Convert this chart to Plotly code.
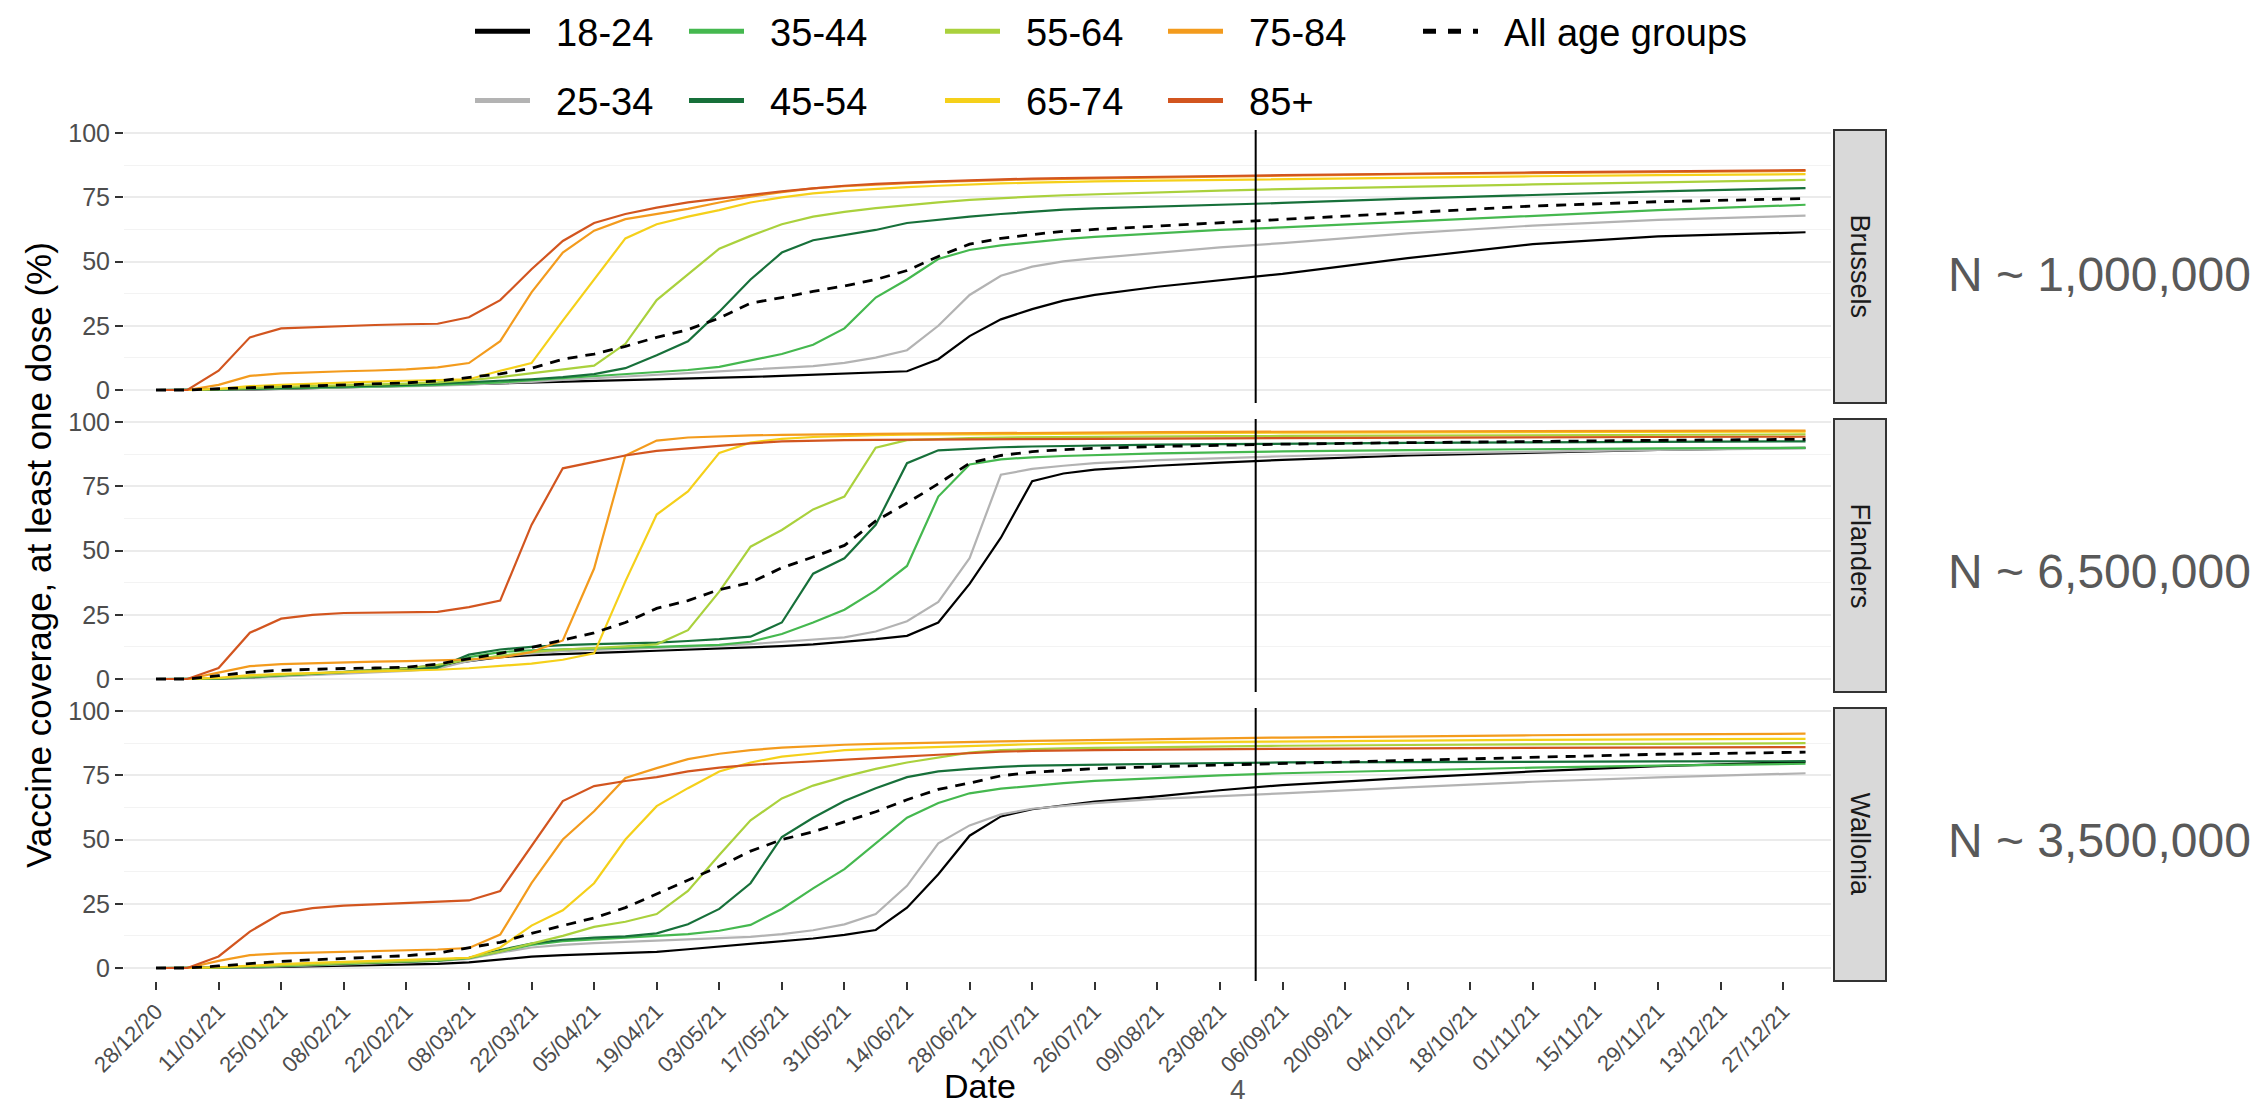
import pandas as pd
import plotly.graph_objects as go
from plotly.subplots import make_subplots

# ---------------- data ----------------
DATES = ["2020-12-28", "2021-01-04", "2021-01-11", "2021-01-18", "2021-01-25", "2021-02-01",
         "2021-02-08", "2021-02-15", "2021-02-22", "2021-03-01", "2021-03-08", "2021-03-15",
         "2021-03-22", "2021-03-29", "2021-04-05", "2021-04-12", "2021-04-19", "2021-04-26",
         "2021-05-03", "2021-05-10", "2021-05-17", "2021-05-24", "2021-05-31", "2021-06-07",
         "2021-06-14", "2021-06-21", "2021-06-28", "2021-07-05", "2021-07-12", "2021-07-19",
         "2021-07-26", "2021-08-09", "2021-08-23", "2021-09-06", "2021-10-04", "2021-11-01",
         "2021-11-29", "2022-01-01"]

GROUPS = ["18-24", "25-34", "35-44", "45-54", "55-64", "65-74", "75-84", "85+"]
REGIONS = ["Brussels", "Flanders", "Wallonia"]
POPULATION_LABELS = ["N ~ 1,000,000", "N ~ 6,500,000", "N ~ 3,500,000"]
TICK_DATES = pd.date_range("2020-12-28", "2021-12-27", freq="14D")
REFERENCE_DATE = "2021-08-31"

# Brussels
BRU_18_24 = [0, 0, 0.1, 0.2, 0.4, 0.7, 1, 1.3, 1.6, 2, 2.3, 2.6, 3, 3.3, 3.6, 3.9, 4.2, 4.4, 4.7, 5.1, 5.5, 5.9, 6.3, 6.8, 7.3, 12, 21, 27.5, 31.5, 34.8, 37, 40.2, 42.8, 45.2, 51.3, 56.8, 59.8, 61.4]
BRU_25_34 = [0, 0, 0.1, 0.3, 0.5, 0.7, 0.9, 1.1, 1.4, 1.7, 2.1, 2.6, 3.2, 3.9, 4.6, 5.3, 6, 6.7, 7.4, 8, 8.6, 9.3, 10.6, 12.6, 15.5, 25, 37, 44.5, 48, 50.1, 51.3, 53.5, 55.5, 57.2, 61, 64, 66.2, 67.9]
BRU_35_44 = [0, 0, 0.2, 0.4, 0.6, 0.8, 1, 1.3, 1.6, 2, 2.5, 3, 3.8, 4.6, 5.5, 6.3, 7, 7.8, 9, 11.5, 14, 17.6, 24, 36, 43, 51, 54.5, 56.3, 57.5, 58.7, 59.6, 61, 62.3, 63.3, 65.5, 67.8, 70, 72.1]
BRU_45_54 = [0, 0, 0.2, 0.5, 0.8, 1, 1.3, 1.6, 2, 2.5, 3, 3.5, 4.2, 5, 6.2, 8.5, 13.5, 19, 30.5, 43, 53.5, 58.3, 60.3, 62.3, 65, 66.3, 67.5, 68.5, 69.3, 70.2, 70.7, 71.4, 72, 72.8, 74.5, 76, 77.3, 78.6]
BRU_55_64 = [0, 0, 0.3, 0.8, 1.2, 1.5, 1.8, 2.1, 2.5, 3, 3.8, 5, 6.5, 8, 9.5, 18, 35, 45, 55, 60, 64.5, 67.5, 69.3, 70.8, 72, 73, 74, 74.7, 75.3, 75.8, 76.2, 76.9, 77.6, 78.2, 79.2, 80, 80.8, 81.8]
BRU_65_74 = [0, 0, 0.5, 1.5, 2, 2.5, 3, 3.3, 3.6, 3.8, 4.2, 7.5, 10.5, 27, 43, 59, 64.5, 67.5, 70, 73, 75, 76.5, 77.5, 78.3, 79, 79.5, 80, 80.4, 80.7, 81, 81.2, 81.5, 81.8, 82.1, 82.7, 83.2, 83.6, 84]
BRU_75_84 = [0, 0, 2, 5.5, 6.5, 7, 7.3, 7.6, 8, 8.8, 10.5, 19, 38, 53.5, 62, 66.5, 68.5, 70.5, 73, 75.3, 77, 78.5, 79.3, 80, 80.5, 81, 81.4, 81.7, 82, 82.2, 82.4, 82.8, 83.1, 83.4, 84, 84.5, 85, 85.3]
BRU_85P = [0, 0, 7.5, 20.5, 24, 24.5, 25, 25.3, 25.6, 25.8, 28.3, 35, 47, 58, 65, 68.5, 71, 73, 74.5, 76, 77.3, 78.5, 79.5, 80.2, 80.8, 81.2, 81.6, 82, 82.3, 82.5, 82.7, 83, 83.3, 83.6, 84.2, 84.7, 85.1, 85.6]
BRU_ALL = [0, 0, 0.5, 1, 1.3, 1.6, 2, 2.4, 2.8, 3.5, 4.8, 6.3, 8.5, 12, 14, 17, 20.5, 23.5, 28, 33.8, 36, 38.4, 40.5, 43, 46.5, 52, 56.8, 59, 60.5, 61.8, 62.5, 63.8, 65.2, 66.5, 69.2, 71.6, 73.3, 74.5]

# Flanders
FLA_18_24 = [0, 0, 0.1, 0.5, 1.2, 2, 2.8, 3.5, 4.3, 5.2, 7, 8.5, 9.3, 9.8, 10.2, 10.6, 11, 11.4, 11.8, 12.3, 12.8, 13.5, 14.5, 15.5, 16.8, 22, 37, 55, 77, 80, 81.5, 83, 84.2, 85.3, 87, 88.2, 89.2, 90]
FLA_25_34 = [0, 0, 0.1, 0.5, 1, 1.5, 2, 2.6, 3.2, 4, 7, 9, 10, 10.8, 11.3, 11.7, 12.1, 12.5, 13, 13.6, 14.4, 15.3, 16.2, 18.5, 22.5, 30, 47, 79.5, 81.8, 83, 84, 85.2, 86, 86.7, 87.7, 88.5, 89.2, 89.8]
FLA_35_44 = [0, 0, 0.2, 0.7, 1.3, 1.9, 2.5, 3.1, 3.8, 4.5, 8.5, 10.5, 11.2, 11.6, 11.9, 12.2, 12.5, 12.8, 13.3, 14.5, 17.5, 22, 27, 34.5, 44, 71, 83.5, 85.5, 86.3, 86.8, 87.2, 87.8, 88.2, 88.6, 89.1, 89.5, 89.8, 90]
FLA_45_54 = [0, 0, 0.2, 0.8, 1.5, 2.2, 2.8, 3.4, 4, 4.5, 9.5, 11.5, 12.5, 13.2, 13.6, 13.9, 14.2, 14.8, 15.5, 16.5, 22, 41, 47, 60, 84, 89, 89.7, 90.2, 90.5, 90.7, 90.9, 91.2, 91.4, 91.6, 91.9, 92.1, 92.3, 92.5]
FLA_55_64 = [0, 0, 0.3, 1, 1.6, 2.2, 2.8, 3.4, 4.2, 5.5, 7.5, 9, 10.5, 11.5, 12, 12.7, 13.5, 19, 34, 51.5, 58, 66, 71, 90, 93, 93.5, 93.8, 94, 94.1, 94.2, 94.3, 94.4, 94.5, 94.6, 94.8, 95, 95.1, 95.2]
FLA_65_74 = [0, 0, 0.5, 1.5, 2, 2.3, 2.6, 2.9, 3.2, 3.6, 4.2, 5, 6, 7.5, 10, 38, 64, 73, 88, 92, 93.5, 94.2, 94.6, 94.9, 95.1, 95.2, 95.3, 95.4, 95.5, 95.6, 95.6, 95.7, 95.8, 95.9, 96, 96.1, 96.2, 96.3]
FLA_75_84 = [0, 0, 2.5, 5, 5.8, 6.2, 6.5, 6.8, 7, 7.2, 7.6, 8.3, 10.5, 15, 43, 87, 92.8, 94, 94.5, 94.8, 95, 95.2, 95.3, 95.4, 95.5, 95.6, 95.7, 95.8, 95.9, 96, 96, 96.1, 96.2, 96.3, 96.4, 96.5, 96.6, 96.7]
FLA_85P = [0, 0, 4.3, 18, 23.5, 25, 25.7, 25.9, 26, 26.1, 28, 30.5, 60, 82, 84.5, 87, 88.8, 89.8, 90.8, 91.7, 92.5, 92.8, 93, 93.1, 93.2, 93.3, 93.3, 93.4, 93.4, 93.5, 93.5, 93.6, 93.7, 93.8, 94, 94.1, 94.2, 94.3]
FLA_ALL = [0, 0, 1.3, 2.7, 3.4, 3.8, 4.1, 4.3, 4.6, 5.8, 7.8, 10, 12.3, 15, 18, 22, 27.5, 30.5, 34.8, 37.5, 43.3, 47.5, 52, 61.5, 68.5, 76, 84, 87, 88.5, 89.3, 89.8, 90.5, 91, 91.4, 92, 92.5, 92.9, 93.3]

# Wallonia
WAL_18_24 = [0, 0, 0.1, 0.2, 0.4, 0.6, 0.8, 1, 1.3, 1.6, 2.2, 3.3, 4.4, 5, 5.5, 5.8, 6.3, 7.3, 8.3, 9.3, 10.3, 11.5, 12.9, 14.8, 23.5, 36.5, 51.5, 59, 61.8, 63.3, 64.8, 66.8, 69.2, 71.2, 74, 76.5, 78.6, 80.2]
WAL_25_34 = [0, 0, 0.1, 0.3, 0.6, 1, 1.4, 1.8, 2.2, 2.7, 3.5, 6, 8, 9, 9.7, 10.2, 10.7, 11.2, 11.6, 12.1, 13.2, 14.7, 17, 21, 32, 48.5, 55.5, 59.8, 62, 63.2, 64.2, 65.8, 67, 68, 70.3, 72.5, 74.2, 75.8]
WAL_35_44 = [0, 0, 0.1, 0.4, 0.8, 1.2, 1.6, 2, 2.4, 2.9, 3.8, 6.5, 9, 10.5, 11.2, 11.8, 12.4, 13.2, 14.5, 16.8, 23, 31, 38.5, 48.5, 58.5, 64.2, 68, 69.8, 71, 72, 72.8, 74, 75, 75.8, 77, 78, 78.8, 79.5]
WAL_45_54 = [0, 0, 0.2, 0.5, 0.9, 1.3, 1.7, 2.1, 2.5, 3, 4, 7, 9.5, 11, 11.8, 12.3, 13.5, 17, 23, 33, 51, 58.5, 65, 70, 74.3, 76.5, 77.5, 78.3, 78.8, 79, 79.2, 79.5, 79.8, 80, 80.2, 80.3, 80.4, 80.5]
WAL_55_64 = [0, 0, 0.2, 0.6, 1, 1.4, 1.8, 2.2, 2.6, 3.1, 4, 6.5, 9.5, 12.5, 16, 18, 21, 30, 44, 57.5, 66, 71, 74.5, 77.5, 80, 82, 83.8, 84.8, 85.2, 85.5, 85.7, 86, 86.3, 86.5, 86.8, 87.1, 87.3, 87.5]
WAL_65_74 = [0, 0, 0.3, 1, 1.5, 2, 2.4, 2.7, 3, 3.4, 4, 8, 16.5, 22.5, 33, 50, 63, 70, 76.5, 80, 82.3, 83.5, 84.8, 85.3, 85.7, 86.1, 86.5, 86.9, 87.1, 87.3, 87.5, 87.8, 88, 88.2, 88.5, 88.8, 89, 89.2]
WAL_75_84 = [0, 0, 2.8, 5, 5.7, 6, 6.3, 6.6, 6.9, 7.2, 7.8, 13, 33, 50, 61, 74, 77.8, 81.3, 83.4, 84.8, 85.8, 86.4, 86.9, 87.2, 87.5, 87.8, 88, 88.2, 88.4, 88.6, 88.8, 89.1, 89.4, 89.7, 90.2, 90.6, 90.9, 91.2]
WAL_85P = [0, 0, 4.5, 14.2, 21.3, 23.3, 24.3, 24.8, 25.2, 25.6, 26.3, 30, 47.5, 65, 70.8, 72.8, 74.3, 76.5, 78, 79.1, 79.8, 80.5, 81.2, 81.8, 82.4, 83, 83.6, 84.2, 84.5, 84.7, 84.8, 85, 85.2, 85.3, 85.5, 85.7, 85.8, 86]
WAL_ALL = [0, 0, 0.8, 1.8, 2.6, 3.2, 3.7, 4.2, 4.8, 5.8, 7.8, 10, 13.5, 16.5, 19.5, 23.5, 28.8, 34, 39.5, 45.5, 50, 53, 56.8, 60.8, 65.5, 69.5, 72, 74.8, 76.2, 77, 77.6, 78.4, 79, 79.6, 81, 82.2, 83.2, 84]

DATA = {
    "Brussels": dict(zip(GROUPS, [BRU_18_24, BRU_25_34, BRU_35_44, BRU_45_54, BRU_55_64, BRU_65_74, BRU_75_84, BRU_85P])),
    "Flanders": dict(zip(GROUPS, [FLA_18_24, FLA_25_34, FLA_35_44, FLA_45_54, FLA_55_64, FLA_65_74, FLA_75_84, FLA_85P])),
    "Wallonia": dict(zip(GROUPS, [WAL_18_24, WAL_25_34, WAL_35_44, WAL_45_54, WAL_55_64, WAL_65_74, WAL_75_84, WAL_85P])),
}
ALL_AGES = {"Brussels": BRU_ALL, "Flanders": FLA_ALL, "Wallonia": WAL_ALL}

# ---------------- style ----------------
COLORS = {"18-24": "#000000", "25-34": "#b3b3b3", "35-44": "#45b84f", "45-54": "#17703a",
          "55-64": "#aad13d", "65-74": "#f5d01a", "75-84": "#f39b1d", "85+": "#d2551f"}
FONT = "Liberation Sans, Arial, Helvetica, sans-serif"
LEGEND_COLUMNS = [["18-24", "25-34"], ["35-44", "45-54"], ["55-64", "65-74"], ["75-84", "85+"], ["All age groups"]]
LEGEND_X_PX = [462, 676, 932, 1155, 1410]
NBSP = "\u00a0\u00a0"

W, H = 2263, 1106
PL, PR, PT, PB = 116, 1823, 122, 973
PW, PH = PR - PL, PB - PT


def px_x(p):
    return (p - PL) / PW


def px_y(p):
    return (PB - p) / PH


fig = make_subplots(rows=3, cols=1, shared_xaxes=True, vertical_spacing=16 / PH)

for r, region in enumerate(REGIONS, start=1):
    for g in GROUPS:
        fig.add_trace(go.Scatter(x=DATES, y=DATA[region][g], mode="lines", name=g, legendgroup=g,
                                 showlegend=False, line=dict(color=COLORS[g], width=2.2)), row=r, col=1)
    fig.add_trace(go.Scatter(x=DATES, y=ALL_AGES[region], mode="lines", name="All age groups",
                             legendgroup="All age groups", showlegend=False,
                             line=dict(color="#000000", width=2.8, dash="10px,8px")), row=r, col=1)

# legend entries (one legend per column, like the original 2-row legend)
for i, col in enumerate(LEGEND_COLUMNS):
    lname = "legend" if i == 0 else f"legend{i + 1}"
    for name in col:
        is_all = name == "All age groups"
        fig.add_trace(go.Scatter(
            x=[None], y=[None], mode="lines", name=NBSP + name, legend=lname, legendgroup=name,
            showlegend=True,
            line=dict(color="#000000" if is_all else COLORS[name], width=5,
                      dash="13px,12px" if is_all else "solid")), row=1, col=1)

legend_common = dict(orientation="v", xanchor="left", yanchor="top", y=px_y(-8),
                     font=dict(family=FONT, size=38, color="#000000"),
                     bgcolor="rgba(0,0,0,0)", borderwidth=0, tracegroupgap=17, itemwidth=55)
legends = {}
for i, xp in enumerate(LEGEND_X_PX):
    lname = "legend" if i == 0 else f"legend{i + 1}"
    legends[lname] = dict(legend_common, x=px_x(xp))

fig.update_layout(width=W, height=H, plot_bgcolor="white", paper_bgcolor="white",
                  margin=dict(l=PL, r=W - PR, t=PT, b=H - PB, autoexpand=False),
                  font=dict(family=FONT), showlegend=True, **legends)

x0 = pd.Timestamp("2020-12-28")
X_RANGE = [x0 - pd.Timedelta(days=7.16), x0 + pd.Timedelta(days=374.7)]

for r in range(1, 4):
    fig.update_yaxes(row=r, col=1, range=[-5.05, 101.2], tickvals=[0, 25, 50, 75, 100],
                     showgrid=True, gridcolor="#ebebeb", gridwidth=2, zeroline=False, showline=False,
                     ticks="outside", ticklen=8, tickwidth=1.5, tickcolor="#333333",
                     tickfont=dict(family=FONT, size=25, color="#4d4d4d"),
                     minor=dict(tickvals=[12.5, 37.5, 62.5, 87.5], showgrid=True,
                                gridcolor="#f3f3f3", gridwidth=1.2, ticks=""))
    fig.update_xaxes(row=r, col=1, type="date", range=X_RANGE, showgrid=False, zeroline=False,
                     showline=False, tickvals=TICK_DATES, tickformat="%d/%m/%y",
                     tickangle=-45, ticks="outside" if r == 3 else "", ticklen=8, tickwidth=1.5,
                     tickcolor="#333333", showticklabels=(r == 3),
                     tickfont=dict(family=FONT, size=22, color="#4d4d4d"))

shapes = []
annotations = []
for r, region in enumerate(REGIONS, start=1):
    yd = "y domain" if r == 1 else f"y{r} domain"
    xr = "x" if r == 1 else f"x{r}"
    shapes.append(dict(type="line", xref=xr, yref=yd, x0=REFERENCE_DATE, x1=REFERENCE_DATE,
                       y0=0, y1=1, line=dict(color="#000000", width=2)))
    shapes.append(dict(type="rect", xref="paper", yref=yd, x0=px_x(1826), x1=px_x(1878), y0=0, y1=1,
                       fillcolor="#d9d9d9", line=dict(color="#333333", width=2), layer="above"))
    annotations.append(dict(xref="paper", yref=yd, x=px_x(1852), y=0.5, text=region, textangle=90,
                            showarrow=False, font=dict(family=FONT, size=27, color="#1a1a1a"),
                            xanchor="center", yanchor="middle"))

for label, yp in zip(POPULATION_LABELS, [266, 563, 832]):
    annotations.append(dict(xref="paper", yref="paper", x=px_x(1938), y=px_y(yp), text=label,
                            showarrow=False, xanchor="left", yanchor="middle",
                            font=dict(family=FONT, size=48, color="#595959")))

annotations.append(dict(xref="paper", yref="paper", x=px_x(972), y=px_y(1099), text="Date",
                        showarrow=False, xanchor="center", yanchor="bottom",
                        font=dict(family=FONT, size=34, color="#000000")))
annotations.append(dict(xref="paper", yref="paper", x=px_x(1230), y=px_y(1099), text="4",
                        showarrow=False, xanchor="center", yanchor="bottom",
                        font=dict(family=FONT, size=28, color="#595959")))
annotations.append(dict(xref="paper", yref="paper", x=px_x(30), y=px_y(547),
                        text="Vaccine coverage, at least one dose (%)", textangle=-90,
                        showarrow=False, xanchor="center", yanchor="middle",
                        font=dict(family=FONT, size=35, color="#000000")))

fig.update_layout(shapes=shapes, annotations=annotations)
fig.write_html("out.html")
